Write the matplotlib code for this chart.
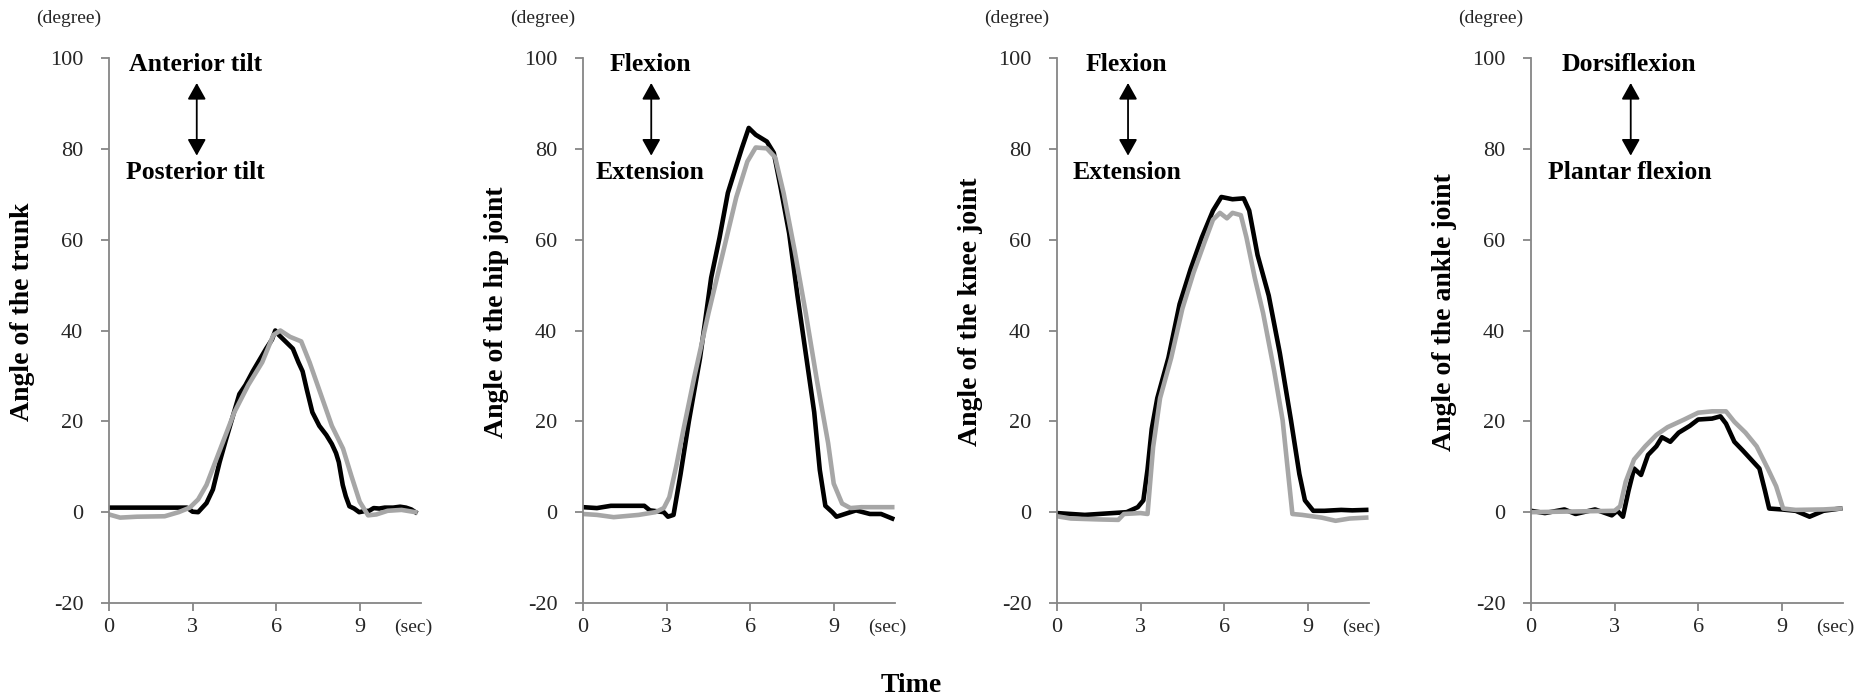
import matplotlib
matplotlib.use("Agg")
import matplotlib.pyplot as plt

plt.rcParams['font.family'] = ['Liberation Serif', 'DejaVu Serif']
plt.rcParams['axes.unicode_minus'] = False

# ---- data (time in sec, angle in degree) ----
# trunk
trunk_t_black = [0, 0.5, 1.0, 2.0, 2.8, 3.0, 3.2, 3.5, 3.73, 3.97, 4.2, 4.44, 4.68, 4.9, 5.16, 5.4, 5.64, 5.85, 5.97,
                 6.1, 6.35, 6.6, 6.8, 6.95, 7.1, 7.3, 7.55, 7.8, 8.0, 8.15, 8.25, 8.39, 8.5, 8.63, 8.8, 8.98, 9.15,
                 9.34, 9.5, 9.7, 9.9, 10.2, 10.45, 10.66, 10.85, 11.0]
trunk_black = [1.0, 1.0, 1.0, 1.0, 1.0, 0.1, 0.0, 2.0, 5.0, 11.0, 16.0, 21.0, 26.0, 28.0, 31.0, 33.5, 36.0, 38.0, 40.0,
               39.0, 37.5, 36.0, 33.0, 31.0, 27.0, 22.0, 19.0, 17.0, 15.0, 13.0, 11.0, 6.0, 3.5, 1.3, 0.8, 0.0, 0.2,
               0.3, 0.9, 0.8, 1.0, 1.0, 1.2, 1.0, 0.6, 0.0]
trunk_t_gray = [0, 0.4, 1.0, 2.0, 2.5, 2.9, 3.2, 3.5, 4.0, 4.5, 5.0, 5.5, 5.9, 6.15, 6.5, 6.9, 7.2, 7.6, 8.0, 8.4, 8.7,
                9.0, 9.3, 9.6, 10.0, 10.5, 11.0]
trunk_gray = [-0.5, -1.2, -1.0, -0.9, 0.0, 1.0, 2.8, 6.0, 14.0, 22.0, 28.0, 33.0, 39.0, 40.0, 38.6, 37.6, 33.0, 26.0,
              19.0, 14.0, 8.0, 2.3, -0.7, -0.5, 0.3, 0.5, 0.0]

# hip
hip_t_black = [0, 0.5, 1.0, 2.2, 2.4, 2.9, 3.05, 3.25, 3.5, 3.8, 4.2, 4.6, 4.9, 5.2, 5.5, 5.7, 5.95, 6.2, 6.6, 6.85,
               7.1, 7.4, 7.7, 8.0, 8.3, 8.5, 8.7, 8.95, 9.1, 9.4, 9.8, 10.3, 10.7, 11.1]
hip_black = [1.1, 0.9, 1.4, 1.4, 0.4, 0.0, -1.0, -0.6, 8.3, 20.0, 33.9, 51.6, 60.4, 70.3, 76.2, 80.1, 84.6, 83.1, 81.6,
             79.1, 71.3, 61.4, 47.6, 34.8, 22.0, 9.3, 1.4, 0.0, -1.0, -0.4, 0.4, -0.4, -0.4, -1.4]
hip_t_gray = [0, 0.5, 1.1, 2.0, 2.6, 2.9, 3.1, 3.35, 3.6, 4.0, 4.5, 5.0, 5.5, 5.9, 6.2, 6.6, 6.9, 7.2, 7.6, 8.0, 8.4,
              8.8, 9.0, 9.3, 9.6, 10.0, 11.1]
hip_gray = [-0.4, -0.6, -1.1, -0.6, 0.0, 0.9, 3.3, 10.2, 18.0, 29.9, 43.7, 56.5, 69.3, 77.2, 80.3, 80.1, 78.1, 70.3,
            57.5, 43.7, 28.9, 15.2, 6.3, 1.9, 0.9, 1.1, 1.1]

# knee
knee_t_black = [0, 1.0, 2.0, 2.5, 2.9, 3.1, 3.25, 3.4, 3.6, 4.0, 4.4, 4.8, 5.2, 5.6, 5.9, 6.3, 6.7, 6.9, 7.2, 7.6, 8.0,
                8.4, 8.7, 8.9, 9.2, 9.6, 10.2, 10.6, 11.1]
knee_black = [-0.2, -0.6, -0.2, 0.0, 1.1, 2.6, 9.4, 18.3, 25.1, 34.0, 45.8, 53.6, 60.5, 66.4, 69.4, 68.9, 69.1, 66.4,
              56.6, 47.7, 35.0, 20.2, 8.4, 2.6, 0.3, 0.3, 0.5, 0.4, 0.5]
knee_t_gray = [0, 0.5, 1.5, 2.2, 2.4, 3.0, 3.25, 3.45, 3.7, 4.1, 4.5, 4.9, 5.3, 5.6, 5.85, 6.1, 6.3, 6.6, 6.8, 7.1, 7.4,
               7.8, 8.1, 8.3, 8.45, 8.8, 9.5, 10.0, 10.5, 11.1]
knee_gray = [-0.9, -1.4, -1.6, -1.7, -0.4, -0.2, -0.4, 14.3, 25.1, 34.0, 44.8, 52.7, 59.5, 64.4, 65.9, 64.7, 65.9,
             65.4, 60.5, 51.6, 43.8, 31.0, 20.2, 8.4, -0.4, -0.6, -1.2, -1.9, -1.4, -1.2]

# ankle
ankle_t_black = [0, 0.5, 1.2, 1.6, 2.3, 2.9, 3.1, 3.3, 3.5, 3.7, 3.95, 4.2, 4.5, 4.7, 5.0, 5.3, 5.7, 6.0, 6.5, 6.8, 7.0,
                 7.3, 7.6, 7.9, 8.2, 8.4, 8.55, 9.0, 9.5, 10.0, 10.5, 11.1]
ankle_black = [0.3, -0.2, 0.6, -0.4, 0.6, -0.7, 0.3, -1.0, 4.7, 9.6, 8.2, 12.6, 14.5, 16.5, 15.5, 17.5, 19.0, 20.4,
               20.6, 21.1, 19.5, 15.5, 13.6, 11.6, 9.6, 4.7, 0.8, 0.6, 0.3, -1.0, 0.3, 0.8]
ankle_t_gray = [0, 3.0, 3.2, 3.4, 3.7, 4.1, 4.5, 4.9, 5.5, 6.0, 6.5, 7.0, 7.3, 7.7, 8.1, 8.5, 8.8, 9.05, 9.5, 10.5, 11.1]
ankle_gray = [0.0, 0.3, 1.3, 6.7, 11.6, 14.5, 17.0, 18.7, 20.4, 21.9, 22.2, 22.2, 19.9, 17.5, 14.5, 9.6, 5.7, 0.8, 0.5,
              0.6, 0.8]

ylabels = ["Angle of the trunk", "Angle of the hip joint", "Angle of the knee joint", "Angle of the ankle joint"]
top_words = ["Anterior tilt", "Flexion", "Flexion", "Dorsiflexion"]
bottom_words = ["Posterior tilt", "Extension", "Extension", "Plantar flexion"]
word_x = [3.1, 2.4, 2.5, 3.53]

panels = [
    (trunk_t_black, trunk_black, trunk_t_gray, trunk_gray),
    (hip_t_black, hip_black, hip_t_gray, hip_gray),
    (knee_t_black, knee_black, knee_t_gray, knee_gray),
    (ankle_t_black, ankle_black, ankle_t_gray, ankle_gray),
]

fig = plt.figure(figsize=(18.74, 7), dpi=100)
axis_col = "#868686"
lefts = [109, 583, 1057, 1531]

for i, (tb, yb, tg, yg) in enumerate(panels):
    ax = fig.add_axes([lefts[i] / 1874, 1 - 603 / 700, 312 / 1874, 545 / 700])
    ax.plot(tb, yb, color="black", lw=3.3)
    ax.plot(tg, yg, color="#a6a6a6", lw=3.3)

    ax.set_xlim(0, 11.2)
    ax.set_ylim(-20, 100)
    ax.set_xticks([0, 3, 6, 9])
    ax.set_yticks([-20, 0, 20, 40, 60, 80, 100])
    for s in ["top", "right"]:
        ax.spines[s].set_visible(False)
    for s in ["left", "bottom"]:
        ax.spines[s].set_color(axis_col)
        ax.spines[s].set_linewidth(1.3)
    ax.tick_params(axis="both", direction="out", length=5.5, width=1.3, color=axis_col,
                   labelsize=16, labelcolor="#262626")
    ax.tick_params(axis="y", pad=13)
    ax.tick_params(axis="x", pad=5)

    ax.set_ylabel(ylabels[i], fontsize=20, fontweight="bold")
    ax.yaxis.set_label_coords(-0.236, 0.534)

    ax.text(-0.13, 1.073, "(degree)", transform=ax.transAxes, ha="center", va="center",
            fontsize=14, color="#262626")
    ax.text(0.974, -0.044, "(sec)", transform=ax.transAxes, ha="center", va="center",
            fontsize=14, color="#262626")

    ax.text(word_x[i], 98.5, top_words[i], ha="center", va="center", fontsize=18.5, fontweight="bold")
    ax.text(word_x[i], 74.7, bottom_words[i], ha="center", va="center", fontsize=18.5, fontweight="bold")
    ax.annotate("", xy=(word_x[i] + 0.05, 94.5), xytext=(word_x[i] + 0.05, 78.5),
                arrowprops=dict(arrowstyle="<|-|>,head_length=0.5,head_width=0.28",
                                color="black", lw=1.3, mutation_scale=20, shrinkA=0, shrinkB=0))

fig.text(911 / 1874, 1 - 685 / 700, "Time", ha="center", va="center", fontsize=20, fontweight="bold")

fig.savefig("out.png", dpi=100)
